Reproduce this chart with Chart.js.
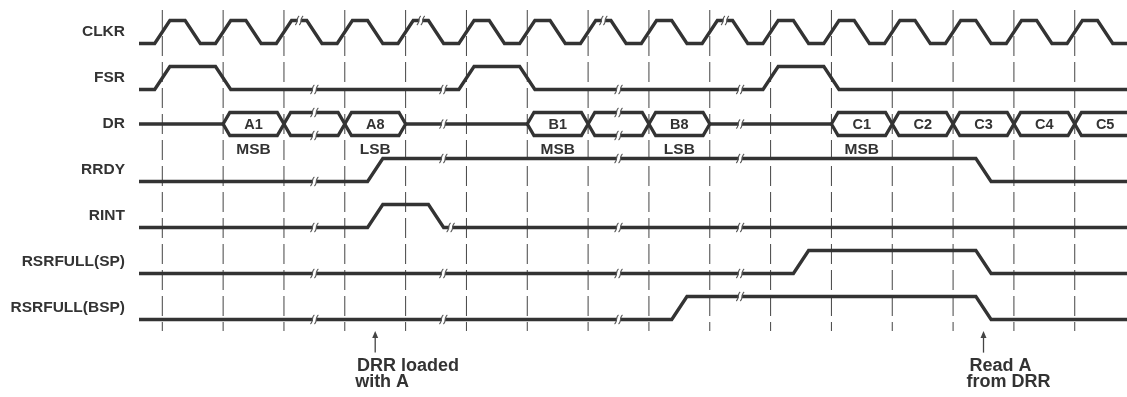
<!DOCTYPE html>
<html><head><meta charset="utf-8">
<script src="https://cdn.jsdelivr.net/npm/chart.js@4/dist/chart.umd.min.js"></script>
<style>html,body{margin:0;padding:0;background:#fff}#wrap{position:relative;width:1127px;height:397px}</style>
</head><body><div id="wrap"><canvas id="c"></canvas></div>
<script>
// ---- data (time in clock periods, levels 0 = low, 1 = high) ----
const signalNames = ['CLKR', 'FSR', 'DR', 'RRDY', 'RINT', 'RSRFULL(SP)', 'RSRFULL(BSP)'];
const clkrRise = [0, 1, 2, 3, 4, 5, 6, 7, 8, 9, 10, 11, 12, 13, 14, 15];
const clkrFall = [0.5, 1.5, 2.5, 3.5, 4.5, 5.5, 6.5, 7.5, 8.5, 9.5, 10.5, 11.5, 12.5, 13.5, 14.5, 15.5];
const fsrEdges = [[0, 1], [1, 0], [5, 1], [6, 0], [10, 1], [11, 0]];
const rrdyEdges = [[3.5, 1], [13.5, 0]];
const rintEdges = [[3.5, 1], [4.5, 0]];
const rsrfullSpEdges = [[10.5, 1], [13.5, 0]];
const rsrfullBspEdges = [[8.5, 1], [13.5, 0]];
const drStart = [1, 2, 3, 6, 7, 8, 11, 12, 13, 14, 15];
const drEnd = [2, 3, 4, 7, 8, 9, 12, 13, 14, 15, 16];
const drWords = ['A1', '', 'A8', 'B1', '', 'B8', 'C1', 'C2', 'C3', 'C4', 'C5'];
const drBits = ['MSB', '', 'LSB', 'MSB', '', 'LSB', 'MSB', '', '', '', ''];
const gridTimes = [0, 1, 2, 3, 4, 5, 6, 7, 8, 9, 10, 11, 12, 13, 14, 15];
const clkrBreaks = [[2.25, 1], [4.25, 1], [7.25, 1], [9.25, 1]];
const fsrBreaks = [[2.5, 0], [4.62, 0], [7.5, 0], [9.5, 0]];
const drBusBreaks = [2.5, 7.5];
const drIdleBreaks = [4.62, 9.5];
const rrdyBreaks = [[2.5, 0], [4.62, 1], [7.5, 1], [9.5, 1]];
const rintBreaks = [[2.5, 0], [4.74, 0], [7.5, 0], [9.5, 0]];
const rsrfullSpBreaks = [[2.5, 0], [4.62, 0], [7.5, 0], [9.5, 0]];
const rsrfullBspBreaks = [[2.5, 0], [4.62, 0], [7.5, 0], [9.5, 1]];
const arrowTimes = [3.5, 13.5];
const arrowTexts = [['DRR loaded', 'with A'], ['Read A', 'from DRR']];
const arrowTextTimes = [[3.2, 3.17], [13.27, 13.22]];

// ---- geometry helpers ----
const tMin = -0.383, tMax = 15.859, edgeHalf = 0.125, busSlope = 0.11;
const INK = '#333333';
const lvl = (row, v) => row - 0.5 * v;

function wave(row, init, edges) {
  const pts = [{x: tMin, y: lvl(row, init)}];
  let cur = init;
  edges.forEach(([t, v]) => {
    pts.push({x: t - edgeHalf, y: lvl(row, cur)});
    pts.push({x: t + edgeHalf, y: lvl(row, v)});
    cur = v;
  });
  pts.push({x: tMax, y: lvl(row, cur)});
  return pts;
}
const sig = (data) => ({data, showLine: true, borderColor: INK, borderWidth: 3.3, pointRadius: 0,
  fill: false, tension: 0, borderJoinStyle: 'miter', order: 1});

const clkrEdges = clkrRise.map(t => [t, 1]).concat(clkrFall.map(t => [t, 0])).sort((a, b) => a[0] - b[0]);

const datasets = [];
datasets.push(sig(wave(0, 0, clkrEdges)));
datasets.push(sig(wave(1, 0, fsrEdges)));
datasets.push(sig(wave(3, 0, rrdyEdges)));
datasets.push(sig(wave(4, 0, rintEdges)));
datasets.push(sig(wave(5, 0, rsrfullSpEdges)));
datasets.push(sig(wave(6, 0, rsrfullBspEdges)));

// DR bus
const drTop = lvl(2, 1), drBot = lvl(2, 0), drMid = (drTop + drBot) / 2;
let idleFrom = tMin;
drStart.forEach((s, i) => {
  const e = drEnd[i];
  if (s > idleFrom) datasets.push(sig([{x: idleFrom, y: drMid}, {x: s, y: drMid}]));
  datasets.push(sig([
    {x: s, y: drMid}, {x: s + busSlope, y: drTop}, {x: e - busSlope, y: drTop}, {x: e, y: drMid},
    {x: e - busSlope, y: drBot}, {x: s + busSlope, y: drBot}, {x: s, y: drMid}
  ]));
  idleFrom = e;
});

// dashed time grid
gridTimes.forEach(t => datasets.push({
  data: [{x: t, y: -0.728}, {x: t, y: 6.25}], showLine: true, borderColor: '#444', borderWidth: 1,
  borderDash: [20, 6], pointRadius: 0, fill: false, order: 10
}));

function drawBreak(ctx, x, y) {
  ctx.save();
  ctx.fillStyle = '#fff';
  ctx.fillRect(x - 1.5, y - 2.5, 3, 5);
  ctx.strokeStyle = '#555';
  ctx.lineWidth = 1.1;
  for (const dx of [-2, 2]) {
    ctx.beginPath();
    ctx.moveTo(x + dx - 2, y + 4.5);
    ctx.bezierCurveTo(x + dx + 1, y + 3, x + dx - 1, y - 3, x + dx + 2, y - 4.5);
    ctx.stroke();
  }
  ctx.restore();
}

const decorPlugin = {
  id: 'decor',
  afterDatasetsDraw(chart) {
    const ctx = chart.ctx, xs = chart.scales.x, ys = chart.scales.y;
    const X = t => xs.getPixelForValue(t), Y = v => ys.getPixelForValue(v);
    // breaks
    const rowBreaks = [[0, clkrBreaks], [1, fsrBreaks], [3, rrdyBreaks], [4, rintBreaks], [5, rsrfullSpBreaks], [6, rsrfullBspBreaks]];
    rowBreaks.forEach(([row, list]) => list.forEach(([t, v]) => drawBreak(ctx, X(t), Y(lvl(row, v)))));
    drBusBreaks.forEach(t => { drawBreak(ctx, X(t), Y(drTop)); drawBreak(ctx, X(t), Y(drBot)); });
    drIdleBreaks.forEach(t => drawBreak(ctx, X(t), Y(drMid)));
    // bus labels
    ctx.save();
    ctx.fillStyle = INK;
    ctx.textAlign = 'center';
    ctx.textBaseline = 'middle';
    drStart.forEach((s, i) => {
      const cx = X((s + drEnd[i]) / 2);
      if (drWords[i]) { ctx.font = 'bold 14.5px "Liberation Sans", Arial, sans-serif'; ctx.fillText(drWords[i], cx, Y(drMid) + 0.5); }
      if (drBits[i]) { ctx.font = 'bold 15.5px "Liberation Sans", Arial, sans-serif'; ctx.fillText(drBits[i], cx, Y(2.3)); }
    });
    // arrows + annotations
    arrowTimes.forEach((t, i) => {
      const x = X(t), yTip = Y(6.25), yTail = Y(6.72);
      ctx.strokeStyle = '#444'; ctx.lineWidth = 1.3;
      ctx.beginPath(); ctx.moveTo(x, yTip + 5); ctx.lineTo(x, yTail); ctx.stroke();
      ctx.fillStyle = '#444';
      ctx.beginPath(); ctx.moveTo(x, yTip); ctx.lineTo(x - 3, yTip + 7); ctx.lineTo(x + 3, yTip + 7); ctx.closePath(); ctx.fill();
      ctx.fillStyle = INK;
      ctx.textAlign = 'left';
      ctx.font = 'bold 18px "Liberation Sans", Arial, sans-serif';
      ctx.fillText(arrowTexts[i][0], X(arrowTextTimes[i][0]), Y(7.01));
      ctx.fillText(arrowTexts[i][1], X(arrowTextTimes[i][1]), Y(7.36));
    });
    ctx.restore();
  }
};

new Chart(document.getElementById('c'), {
  type: 'scatter',
  data: {datasets},
  options: {
    responsive: true, maintainAspectRatio: false, animation: false,
    layout: {padding: 0},
    plugins: {legend: {display: false}, tooltip: {enabled: false}},
    scales: {
      x: {type: 'linear', min: tMin, max: tMax, display: false},
      y: {
        type: 'linear', reverse: true, min: -0.9457, max: 7.6848,
        afterBuildTicks: s => { s.ticks = signalNames.map((n, i) => ({value: i - 0.25})); },
        afterFit: s => { s.width = 139; s.paddingTop = 0; s.paddingBottom = 0; },
        grid: {display: false, drawTicks: false}, border: {display: false},
        ticks: {
          padding: 14, color: INK, autoSkip: false,
          font: {family: '"Liberation Sans", Arial, sans-serif', size: 15.5, weight: 'bold'},
          callback: (v, i) => signalNames[i]
        }
      }
    }
  },
  plugins: [decorPlugin]
});
</script></body></html>
